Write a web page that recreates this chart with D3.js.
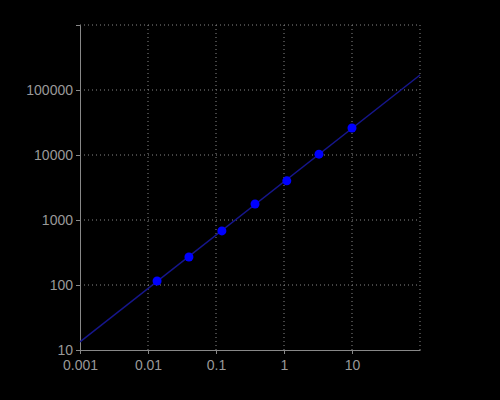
<!DOCTYPE html><html><head><script src="https://cdn.jsdelivr.net/npm/d3@7"></script>
<style>body{margin:0;background:#000}</style></head><body><svg width="500" height="400"></svg>
<script>
const xVals=[0.0136,0.04,0.122,0.375,1.1,3.27,10];
const yVals=[115,270,680,1760,4000,10300,26000];
const fitX=[0.001,100];
const fitY=[13.3,170000];
const xTicks=[0.001,0.01,0.1,1,10];
const yTicks=[10,100,1000,10000,100000];
const svg=d3.select("svg");
svg.append("rect").attr("width",500).attr("height",400).attr("fill","#000");
const x=d3.scaleLog().domain([0.001,100]).range([80,420]);
const y=d3.scaleLog().domain([10,1e6]).range([350,25]);
const g=svg.append("g");
[...xTicks.slice(1),100].forEach(t=>g.append("line").attr("x1",x(t)).attr("x2",x(t)).attr("y1",25).attr("y2",350).attr("stroke","#888").attr("stroke-dasharray","1,3"));
[...yTicks.slice(1),1e6].forEach(t=>g.append("line").attr("y1",y(t)).attr("y2",y(t)).attr("x1",80).attr("x2",420).attr("stroke","#888").attr("stroke-dasharray","1,3"));
const fmt=d=>String(d);
const xa=svg.append("g").attr("transform","translate(0,350)").call(d3.axisBottom(x).tickValues(xTicks).tickFormat(fmt).tickSize(4).tickSizeOuter(0));
const ya=svg.append("g").attr("transform","translate(80,0)").call(d3.axisLeft(y).tickValues(yTicks).tickFormat(fmt).tickSize(4));
[xa,ya].forEach(a=>{a.select(".domain").attr("stroke","#888");a.selectAll("line").attr("stroke","#888");a.selectAll("text").attr("fill","#999").attr("font-family","Liberation Sans, Arial, sans-serif").attr("font-size",14);});
xa.selectAll("text").attr("dy","0.9em");
svg.append("line").attr("x1",x(fitX[0])).attr("y1",y(fitY[0])).attr("x2",x(fitX[1])).attr("y2",y(fitY[1])).attr("stroke","#16168c").attr("stroke-width",1.5);
svg.selectAll("circle.p").data(xVals).join("circle").attr("cx",d=>x(d)).attr("cy",(d,i)=>y(yVals[i])).attr("r",4.5).attr("fill","#0000ff");
</script></body></html>
